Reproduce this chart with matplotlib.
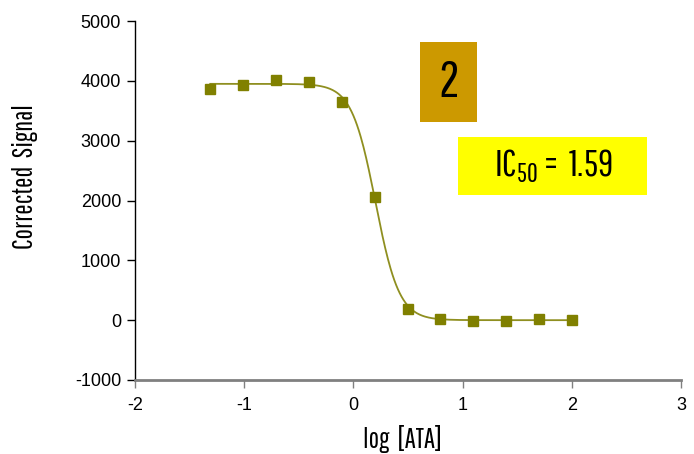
import numpy as np
import matplotlib
matplotlib.use("Agg")
import matplotlib.pyplot as plt
from matplotlib.patches import Rectangle

# ---- data ----
log_conc = [-1.311, -1.010, -0.709, -0.408, -0.107, 0.194, 0.495, 0.796, 1.097, 1.398, 1.699, 2.000]
signal = [3860, 3928, 4010, 3978, 3644, 2058, 189, 20, -15, -15, 20, 5]

# fitted 4PL parameters
fit_top = 3950
fit_bottom = 0
fit_ic50 = 1.59
fit_hill = 4.0

x_ticks = [-2, -1, 0, 1, 2, 3]
y_ticks = [-1000, 0, 1000, 2000, 3000, 4000, 5000]

narrow = ["Pathway Gothic One", "DejaVu Sans"]
tick_font = ["Liberation Sans", "DejaVu Sans"]

fig = plt.figure(figsize=(6.94, 4.54), dpi=100)
ax = fig.add_axes([0.1945, 0.163, 0.787, 0.7907])

xs = np.linspace(min(log_conc), max(log_conc), 400)
curve = fit_bottom + (fit_top - fit_bottom) / (1 + 10 ** ((xs - np.log10(fit_ic50)) * fit_hill))
ax.plot(xs, curve, color="#8f8f20", lw=1.3, zorder=2)
ax.plot(log_conc, signal, ls="none", marker="s", ms=7.5, color="#808000", mec="#808000", zorder=3)

ax.set_xlim(-2, 3)
ax.set_ylim(-1000, 5000)
ax.set_xticks(x_ticks)
ax.set_yticks(y_ticks)
ax.set_xticklabels([str(t) for t in x_ticks], fontfamily=tick_font, fontsize=13)
ax.set_yticklabels([str(t) for t in y_ticks], fontfamily=tick_font, fontsize=13)
for s in ("top", "right"):
    ax.spines[s].set_visible(False)
ax.spines["left"].set_color("black")
ax.spines["left"].set_linewidth(1.0)
ax.spines["bottom"].set_color("#808080")
ax.spines["bottom"].set_linewidth(2.0)
ax.tick_params(axis="y", direction="out", length=6, width=1, colors="black", pad=4)
ax.tick_params(axis="x", direction="out", length=6, width=1, color="#808080", labelcolor="black", pad=6)

fig.text(0.036, 0.612, "Corrected  Signal", fontfamily=narrow, fontsize=20, rotation=90,
         ha="center", va="center")
fig.text(0.580, 0.033, "log  [ATA]", fontfamily=narrow, fontsize=20, ha="center", va="center")

# annotation boxes
fig.patches.append(Rectangle((0.605, 0.731), 0.082, 0.176, transform=fig.transFigure,
                             facecolor="#CC9900", edgecolor="none", zorder=1))
fig.text(0.646, 0.817, "2", fontfamily=narrow, fontsize=37, ha="center", va="center", color="black")

fig.patches.append(Rectangle((0.660, 0.570), 0.272, 0.128, transform=fig.transFigure,
                             facecolor="#FFFF00", edgecolor="none", zorder=1))
fig.text(0.797, 0.634, r"IC$\mathregular{_{50}}$ =  1.59", fontfamily=narrow, fontsize=27,
         ha="center", va="center", color="black")

fig.savefig("out.png", dpi=100)
